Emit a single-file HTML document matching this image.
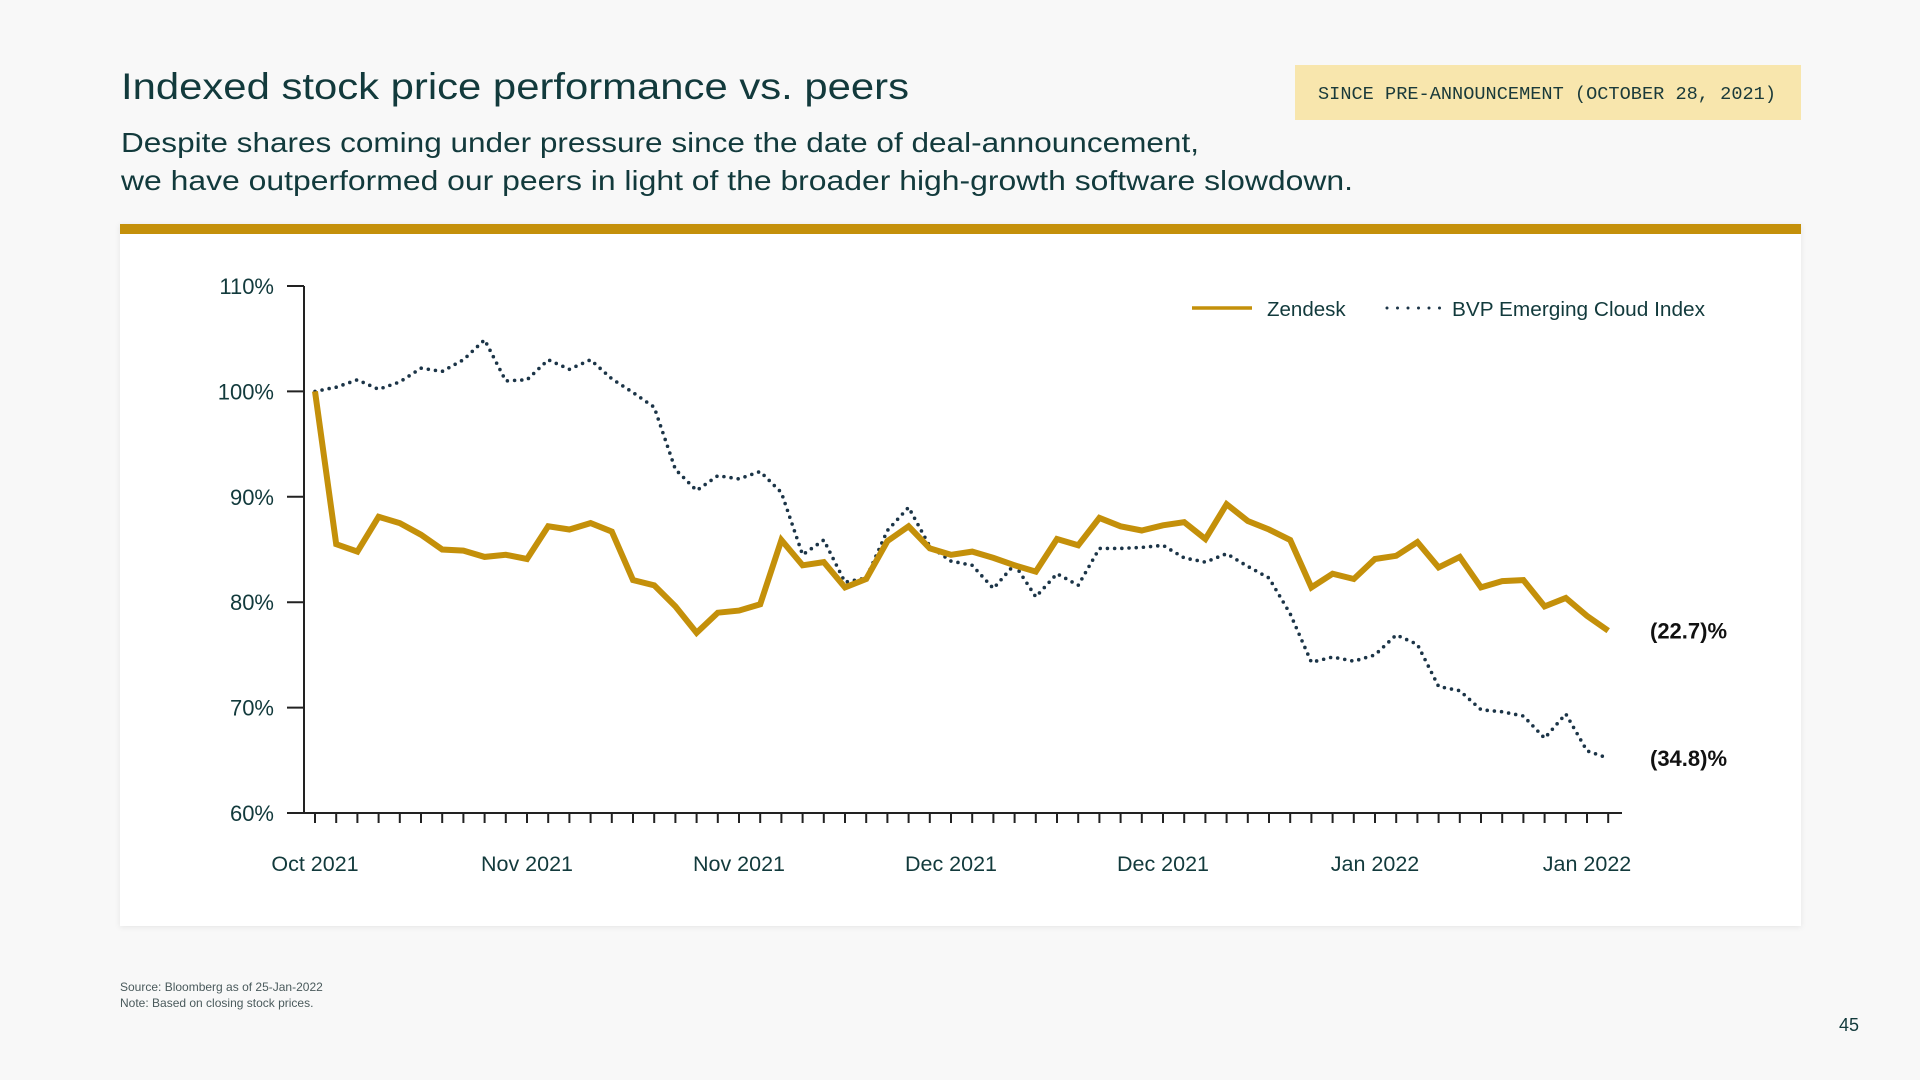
<!DOCTYPE html>
<html>
<head>
<meta charset="utf-8">
<style>
  html,body{margin:0;padding:0;background:#f8f8f8;}
  body{width:1920px;height:1080px;overflow:hidden;font-family:"Liberation Sans",sans-serif;}
  svg{display:block;}
</style>
</head>
<body>
<svg id="page" width="1920" height="1080" viewBox="0 0 1920 1080">
  <defs>
    <filter id="sh" x="-5%" y="-5%" width="110%" height="115%">
      <feDropShadow dx="0" dy="1" stdDeviation="3" flood-color="#000" flood-opacity="0.08"/>
    </filter>
  </defs>
  <rect x="0" y="0" width="1920" height="1080" fill="#f8f8f8"/>
  <text x="121" y="99" font-size="37" fill="#123a3c" textLength="788" lengthAdjust="spacingAndGlyphs">Indexed stock price performance vs. peers</text>
  <text x="121" y="152" font-size="28" fill="#123a3c" textLength="1078" lengthAdjust="spacingAndGlyphs">Despite shares coming under pressure since the date of deal-announcement,</text>
  <text x="121" y="190" font-size="28" fill="#123a3c" textLength="1232" lengthAdjust="spacingAndGlyphs">we have outperformed our peers in light of the broader high-growth software slowdown.</text>
  <g>
    <rect x="1295" y="65" width="506" height="55" fill="#f8e6ad"/>
    <text x="1318" y="99" font-size="18.6" font-family="Liberation Mono, monospace" fill="#1a3a3a" textLength="458" lengthAdjust="spacingAndGlyphs">SINCE PRE-ANNOUNCEMENT (OCTOBER 28, 2021)</text>
  </g>
  <rect x="120" y="224" width="1681" height="702" fill="#ffffff" filter="url(#sh)"/>
  <rect x="120" y="224" width="1681" height="10" fill="#c4900a"/>
  <g id="chart"></g>
  <g>
    <g>
      <line x1="1192" y1="308" x2="1252" y2="308" stroke="#c4900a" stroke-width="3.5"/>
      <text x="1267" y="316" font-size="20.5" fill="#123a3c">Zendesk</text>
    </g>
    <g>
      <line x1="1387" y1="308" x2="1440" y2="308" stroke="#1b3447" stroke-width="3" stroke-linecap="round" stroke-dasharray="0 10.5"/>
      <text x="1452" y="316" font-size="20.5" fill="#123a3c" textLength="253" lengthAdjust="spacingAndGlyphs">BVP Emerging Cloud Index</text>
    </g>
  </g>
  <text x="120" y="991" font-size="12" fill="#4a5a5c">Source: Bloomberg as of 25-Jan-2022</text>
  <text x="120" y="1007" font-size="12" fill="#4a5a5c">Note: Based on closing stock prices.</text>
  <text x="1859" y="1031" font-size="18" fill="#123a3c" text-anchor="end">45</text>
</svg>
<script>
const xLabels = ["Oct 2021","Nov 2021","Nov 2021","Dec 2021","Dec 2021","Jan 2022","Jan 2022"];
const yTicks = [60,70,80,90,100,110];
const zendesk = [100,85.5,84.8,88.1,87.5,86.4,85.0,84.9,84.3,84.5,84.1,87.2,86.9,87.5,86.7,82.1,81.6,79.6,77.1,79.0,79.2,79.8,85.9,83.5,83.8,81.4,82.2,85.8,87.2,85.1,84.5,84.8,84.2,83.5,82.9,86.0,85.4,88.0,87.2,86.8,87.3,87.6,86.0,89.3,87.7,86.9,85.9,81.4,82.7,82.2,84.1,84.4,85.7,83.3,84.3,81.4,82.0,82.1,79.6,80.4,78.7,77.3];
const bvp = [100,100.4,101.1,100.2,100.9,102.2,101.9,103.0,104.9,101.0,101.1,103.0,102.1,103.0,101.2,99.9,98.5,92.6,90.6,92.0,91.7,92.4,90.4,84.5,85.9,81.9,82.3,86.8,89.0,85.3,83.9,83.5,81.3,83.6,80.5,82.7,81.6,85.1,85.1,85.2,85.4,84.2,83.8,84.6,83.4,82.3,78.9,74.3,74.8,74.4,75.0,76.9,76.0,72.0,71.6,69.8,69.6,69.2,67.1,69.4,65.9,65.2];
const endLabels = ["(22.7)%","(34.8)%"];

const NS = "http://www.w3.org/2000/svg";
const X0 = 315, DX = 21.2, Y60 = 813, Y110 = 286;
const xAt = i => X0 + i * DX;
const yAt = v => Y60 - (v - 60) / 50 * (Y60 - Y110);
const g = document.getElementById('chart');
function mk(tag, attrs){ const e = document.createElementNS(NS, tag); for (const k in attrs) e.setAttribute(k, attrs[k]); g.appendChild(e); return e; }

const yAxis = mk('line',{x1:304,y1:Y110,x2:304,y2:Y60,stroke:'#222','stroke-width':2});


const xAxis = mk('line',{x1:287,y1:Y60,x2:1622,y2:Y60,stroke:'#222','stroke-width':2});



yTicks.forEach(v => {
  const t = mk('line',{x1:287,y1:yAt(v),x2:304,y2:yAt(v),stroke:'#222','stroke-width':2});
  
  
  const l = mk('text',{x:274,y:yAt(v)+8,'font-size':22,fill:'#123a3c','text-anchor':'end'});
  l.textContent = v + '%';
  
  
});

zendesk.forEach((v,i) => {
  const t = mk('line',{x1:xAt(i),y1:Y60,x2:xAt(i),y2:Y60+10,stroke:'#222','stroke-width':2});
  
  
});
xLabels.forEach((s,k) => {
  const l = mk('text',{x:xAt(k*10),y:871,'font-size':21.5,fill:'#123a3c','text-anchor':'middle'});
  l.textContent = s;
  
  
});

const ptsB = bvp.map((v,i)=>xAt(i).toFixed(1)+','+yAt(v).toFixed(1)).join(' ');
const lb = mk('polyline',{points:ptsB,fill:'none',stroke:'#1b3447','stroke-width':3.6,'stroke-linecap':'round','stroke-linejoin':'round','stroke-dasharray':'0 7.2'});



const ptsZ = zendesk.map((v,i)=>xAt(i).toFixed(1)+','+yAt(v).toFixed(1)).join(' ');
const lz = mk('polyline',{points:ptsZ,fill:'none',stroke:'#c4900a','stroke-width':6,'stroke-linejoin':'miter'});



const e1 = mk('text',{x:1650,y:yAt(zendesk[zendesk.length-1])+8,'font-size':22,'font-weight':'bold',fill:'#111'});
e1.textContent = endLabels[0];


const e2 = mk('text',{x:1650,y:yAt(bvp[bvp.length-1])+8,'font-size':22,'font-weight':'bold',fill:'#111'});
e2.textContent = endLabels[1];


</script>
</body>
</html>
